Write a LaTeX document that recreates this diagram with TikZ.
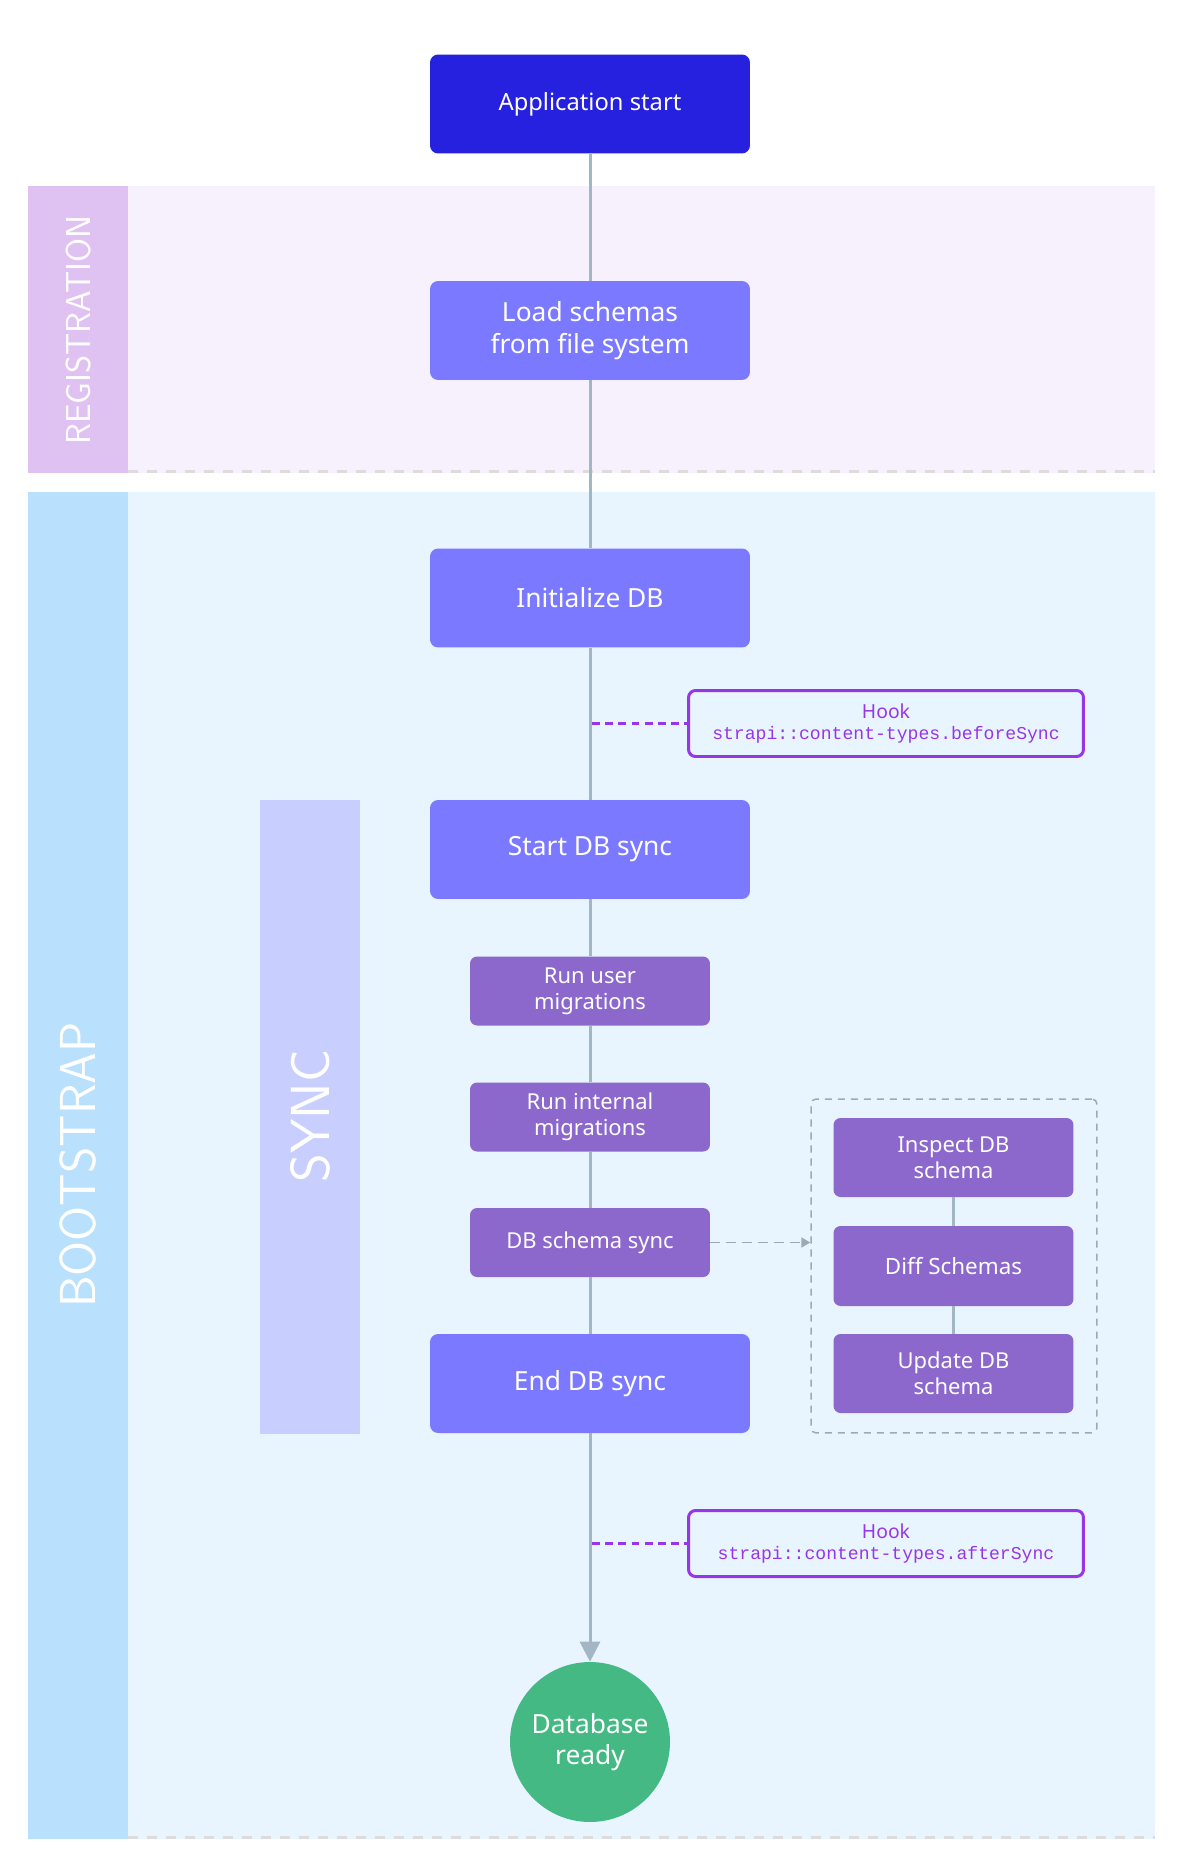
\documentclass[tikz,border=0pt]{standalone}
\usepackage{fontspec}
\setmainfont{Noto Sans}
\setmonofont{Liberation Mono}
\usetikzlibrary{arrows.meta}

\definecolor{startblue}{HTML}{2620DF}
\definecolor{stepblue}{HTML}{7B79FF}
\definecolor{subpurple}{HTML}{8C67CC}
\definecolor{hookpurple}{HTML}{9736E8}
\definecolor{flowgray}{HTML}{A3B6C4}
\definecolor{regstrip}{HTML}{E0C2F2}
\definecolor{regbg}{HTML}{F7F0FD}
\definecolor{bootstrip}{HTML}{B9E0FD}
\definecolor{bootbg}{HTML}{E8F4FE}
\definecolor{syncstrip}{HTML}{C8CEFD}
\definecolor{readygreen}{HTML}{44B984}
\definecolor{lanedash}{HTML}{DCDCDC}
\definecolor{groupgray}{HTML}{A0A9B1}

\newcommand{\hookname}{\ttfamily\fontsize{10.3}{12.4}\selectfont}

\tikzset{
  mainbox/.style={fill=stepblue, text=white, rounded corners=0.16cm, inner sep=0pt,
    minimum width=6.4cm, minimum height=1.98cm, align=center,
    font=\fontsize{15}{18}\selectfont},
  subbox/.style={fill=subpurple, text=white, rounded corners=0.14cm, inner sep=0pt,
    minimum width=4.8cm, minimum height=1.38cm, align=center,
    font=\fontsize{12.5}{14.6}\selectfont},
  hookbox/.style={draw=hookpurple, line width=1.7pt, rounded corners=0.14cm, inner sep=0pt,
    minimum width=7.9cm, minimum height=1.32cm, align=center, text=hookpurple,
    font=\fontsize{11}{12.4}\selectfont},
  flow/.style={draw=flowgray, line width=1.7pt},
  hooklink/.style={draw=hookpurple, line width=2.2pt, dash pattern=on 4.5pt off 3pt},
  lanedashes/.style={draw=lanedash, line width=1.7pt, dash pattern=on 5.7pt off 5.1pt},
  lanelabel/.style={text=white, rotate=90, inner sep=0pt},
}

\begin{document}
\begin{tikzpicture}[x=0.02cm, y=-0.02cm]
  \useasboundingbox[fill=white] (0,0) rectangle (1180,1872);

  % lanes
  \fill[regbg] (28,186) rectangle (1155,473);
  \fill[regstrip] (28,186) rectangle (128,473);
  \draw[lanedashes] (128,471.5) -- (1155,471.5);
  \fill[bootbg] (28,492) rectangle (1155,1839);
  \fill[bootstrip] (28,492) rectangle (128,1839);
  \draw[lanedashes] (128,1837.5) -- (1155,1837.5);
  \fill[syncstrip] (260,800) rectangle (360,1434);

  \node[lanelabel, font=\sffamily\fontsize{19.7}{22}\selectfont] (reglabel) at (78,330) {REGISTRATION};
  \node[lanelabel, font=\sffamily\fontsize{28.8}{32}\selectfont] (bootlabel) at (78,1165) {BOOTSTRAP};
  \node[lanelabel, font=\sffamily\fontsize{31.3}{34}\selectfont] (synclabel) at (310,1116) {SYNC};

  % main flow
  \node[mainbox, fill=startblue, font=\fontsize{13.5}{16}\selectfont] (appstart) at (590,104) {Application start};
  \node[mainbox] (loadschemas) at (590,330.5) {Load schemas\\from file system};
  \node[mainbox] (initdb) at (590,598) {Initialize DB};
  \node[mainbox] (startsync) at (590,849.5) {Start DB sync};
  \node[subbox] (usermig) at (590,991) {Run user\\migrations};
  \node[subbox] (internalmig) at (590,1117) {Run internal\\migrations};
  \node[subbox] (schemasync) at (590,1242.5) {DB schema sync};
  \node[mainbox] (endsync) at (590,1383.5) {End DB sync};
  \node[circle, fill=readygreen, text=white, inner sep=0pt, minimum size=3.2cm, align=center,
    font=\fontsize{15}{18}\selectfont] (dbready) at (590,1742) {Database\\ready};

  % schema sync detail
  \node[draw=groupgray, line width=0.85pt, dash pattern=on 4pt off 3.4pt, rounded corners=0.1cm,
    minimum width=5.72cm, minimum height=6.68cm] (syncgroup) at (954,1266) {};
  \node[subbox, minimum height=1.58cm] (inspect) at (953.5,1157.5) {Inspect DB\\schema};
  \node[subbox, minimum height=1.6cm, font=\fontsize{12.75}{14.6}\selectfont] (diff) at (953.5,1266) {Diff Schemas};
  \node[subbox, minimum height=1.58cm] (update) at (953.5,1373.5) {Update DB\\schema};

  % hooks
  \node[hookbox] (beforehook) at (886,723.5) {Hook\\{\hookname strapi::content-types.beforeSync}};
  \node[hookbox] (afterhook) at (886,1543.5) {Hook\\{\hookname strapi::content-types.afterSync}};
  \coordinate (beforetap) at (592,723.5);
  \coordinate (aftertap) at (592,1543.5);

  \draw[flow] (appstart) -- (loadschemas) -- (initdb) -- (startsync) -- (usermig)
    -- (internalmig) -- (schemasync) -- (endsync);
  \draw[flow, -{Triangle[length=0.4cm, width=0.4cm]}] (endsync) -- (dbready);
  \draw[flow] (inspect) -- (diff) -- (update);
  \draw[hooklink] (beforetap) -- (beforehook.west);
  \draw[hooklink] (aftertap) -- (afterhook.west);
  \draw[draw=groupgray, line width=1.1pt, dash pattern=on 5.7pt off 3.4pt,
    -{Triangle[length=0.18cm, width=0.2cm]}] (schemasync.east) -- (schemasync.east -| syncgroup.west);
\end{tikzpicture}
\end{document}
